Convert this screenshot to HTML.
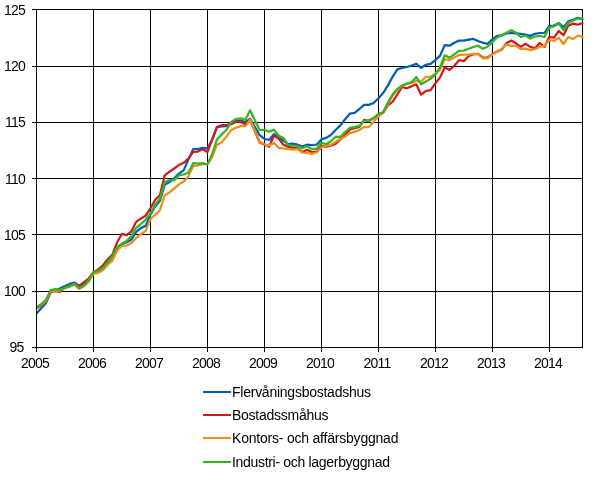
<!DOCTYPE html>
<html><head><meta charset="utf-8"><style>
html,body{margin:0;padding:0;background:#fff;}
svg{display:block;will-change:transform;}
text{font-family:"Liberation Sans",Arial,sans-serif;font-size:14px;fill:#000;}
.ax{letter-spacing:-0.75px;}
</style></head><body>
<svg width="607" height="478" viewBox="0 0 607 478">
<rect width="607" height="478" fill="#fff"/>
<g stroke="#000" stroke-width="1" shape-rendering="crispEdges">
<line x1="32" y1="9.5" x2="583" y2="9.5"/>
<line x1="32" y1="66.5" x2="583" y2="66.5"/>
<line x1="32" y1="122.5" x2="583" y2="122.5"/>
<line x1="32" y1="178.5" x2="583" y2="178.5"/>
<line x1="32" y1="234.5" x2="583" y2="234.5"/>
<line x1="32" y1="291.5" x2="583" y2="291.5"/>
<line x1="32" y1="347.5" x2="583" y2="347.5"/>
<line x1="36.5" y1="9" x2="36.5" y2="352"/>
<line x1="93.5" y1="9" x2="93.5" y2="352"/>
<line x1="150.5" y1="9" x2="150.5" y2="352"/>
<line x1="207.5" y1="9" x2="207.5" y2="352"/>
<line x1="264.5" y1="9" x2="264.5" y2="352"/>
<line x1="321.5" y1="9" x2="321.5" y2="352"/>
<line x1="378.5" y1="9" x2="378.5" y2="352"/>
<line x1="435.5" y1="9" x2="435.5" y2="352"/>
<line x1="492.5" y1="9" x2="492.5" y2="352"/>
<line x1="549.5" y1="9" x2="549.5" y2="352"/>
<line x1="582.5" y1="9" x2="582.5" y2="348"/>
</g>
<defs><clipPath id="pc"><rect x="37" y="0" width="570" height="478"/></clipPath></defs>
<g fill="none" stroke-width="2.25" stroke-linejoin="round" stroke-linecap="round" clip-path="url(#pc)">
<polyline points="36.50,313.40 41.25,308.20 46.00,303.00 50.74,291.70 55.49,290.20 60.24,288.20 64.99,286.10 69.73,283.90 74.48,282.60 79.23,285.70 83.98,283.40 88.73,279.20 93.47,272.30 98.22,271.50 102.97,269.40 107.72,262.60 112.47,256.50 117.21,247.70 121.96,244.30 126.71,242.20 131.46,239.50 136.20,232.00 140.95,227.90 145.70,225.90 150.45,214.50 155.20,206.50 159.94,200.80 164.69,184.80 169.44,182.00 174.19,178.30 178.93,173.60 183.68,170.40 188.43,159.40 193.18,149.10 197.93,149.10 202.67,147.80 207.42,148.70 212.17,139.60 216.92,127.10 221.67,126.40 226.41,126.10 231.16,123.40 235.91,120.50 240.66,120.50 245.40,122.00 250.15,119.00 254.90,127.10 259.65,135.20 264.40,138.80 269.14,140.00 273.89,134.20 278.64,136.80 283.39,140.50 288.13,144.20 292.88,143.60 297.63,144.70 302.38,146.30 307.13,144.70 311.87,145.00 316.62,144.70 321.37,139.40 326.12,137.90 330.87,135.00 335.61,130.00 340.36,125.40 345.11,119.30 349.86,113.70 354.60,112.80 359.35,109.00 364.10,104.90 368.85,104.90 373.60,103.00 378.34,98.50 383.09,93.10 387.84,85.60 392.59,76.80 397.33,69.30 402.08,67.90 406.83,67.00 411.58,65.60 416.33,63.80 421.07,67.90 425.82,64.80 430.57,63.80 435.32,60.10 440.07,55.60 444.81,45.10 449.56,45.70 454.31,42.70 459.06,40.60 463.80,40.60 468.55,39.70 473.30,38.90 478.05,41.10 482.80,42.70 487.54,43.80 492.29,39.40 497.04,35.90 501.79,35.40 506.53,33.30 511.28,32.80 516.03,33.30 520.78,33.80 525.53,34.70 530.27,35.90 535.02,33.80 539.77,33.00 544.52,32.80 549.27,26.00 554.01,25.60 558.76,23.10 563.51,27.10 568.26,21.40 573.00,19.70 577.75,17.90 582.50,19.30" stroke="#005fb4"/>
<polyline points="36.50,308.40 41.25,305.30 46.00,301.30 50.74,291.90 55.49,291.10 60.24,291.80 64.99,287.20 69.73,286.20 74.48,283.80 79.23,285.90 83.98,282.20 88.73,278.70 93.47,272.50 98.22,269.40 102.97,265.30 107.72,259.20 112.47,254.50 117.21,242.20 121.96,233.80 126.71,235.10 131.46,231.30 136.20,221.80 140.95,218.40 145.70,215.70 150.45,208.30 155.20,199.90 159.94,195.20 164.69,175.40 169.44,171.70 174.19,168.50 178.93,165.10 183.68,162.80 188.43,158.50 193.18,151.90 197.93,151.60 202.67,149.10 207.42,152.10 212.17,139.60 216.92,127.10 221.67,125.20 226.41,125.20 231.16,124.20 235.91,121.70 240.66,122.00 245.40,124.20 250.15,119.80 254.90,131.50 259.65,142.50 264.40,144.50 269.14,146.80 273.89,135.80 278.64,138.40 283.39,144.70 288.13,146.80 292.88,147.80 297.63,148.30 302.38,152.00 307.13,149.90 311.87,152.00 316.62,151.50 321.37,146.20 326.12,146.70 330.87,145.70 335.61,143.80 340.36,139.40 345.11,135.00 349.86,129.40 354.60,128.10 359.35,126.90 364.10,120.00 368.85,120.60 373.60,118.10 378.34,115.50 383.09,112.80 387.84,105.30 392.59,101.90 397.33,94.50 402.08,87.00 406.83,88.30 411.58,86.30 416.33,84.30 421.07,94.70 425.82,91.10 430.57,90.10 435.32,83.50 440.07,77.40 444.81,67.20 449.56,69.90 454.31,65.80 459.06,60.10 463.80,61.10 468.55,56.30 473.30,54.30 478.05,53.80 482.80,57.50 487.54,57.50 492.29,54.20 497.04,51.60 501.79,49.50 506.53,43.30 511.28,40.60 516.03,43.30 520.78,46.90 525.53,43.80 530.27,46.90 535.02,48.30 539.77,43.00 544.52,46.90 549.27,37.00 554.01,37.70 558.76,31.00 563.51,35.20 568.26,25.60 573.00,23.70 577.75,24.70 582.50,23.10" stroke="#d21919"/>
<polyline points="36.50,307.10 41.25,304.80 46.00,301.10 50.74,291.30 55.49,290.50 60.24,290.50 64.99,288.30 69.73,286.80 74.48,284.50 79.23,288.80 83.98,286.30 88.73,281.60 93.47,273.80 98.22,272.80 102.97,270.10 107.72,264.70 112.47,260.60 117.21,250.40 121.96,246.00 126.71,245.60 131.46,242.90 136.20,238.00 140.95,234.20 145.70,230.80 150.45,219.00 155.20,214.90 159.94,210.20 164.69,195.20 169.44,192.40 174.19,188.60 178.93,184.30 183.68,181.60 188.43,176.40 193.18,166.00 197.93,165.50 202.67,164.20 207.42,164.00 212.17,157.10 216.92,144.70 221.67,142.50 226.41,136.60 231.16,130.00 235.91,127.80 240.66,126.10 245.40,126.10 250.15,119.80 254.90,130.80 259.65,141.80 264.40,144.20 269.14,145.70 273.89,142.90 278.64,147.80 283.39,148.30 288.13,149.20 292.88,149.70 297.63,149.20 302.38,152.70 307.13,152.80 311.87,153.90 316.62,152.50 321.37,147.50 326.12,145.90 330.87,144.70 335.61,141.90 340.36,138.80 345.11,136.70 349.86,133.10 354.60,131.90 359.35,130.00 364.10,126.90 368.85,127.10 373.60,121.80 378.34,116.60 383.09,112.80 387.84,104.00 392.59,95.80 397.33,90.10 402.08,85.60 406.83,83.80 411.58,82.90 416.33,80.90 421.07,81.50 425.82,76.80 430.57,76.80 435.32,73.60 440.07,69.90 444.81,59.00 449.56,60.10 454.31,57.40 459.06,54.90 463.80,54.70 468.55,54.70 473.30,53.80 478.05,53.80 482.80,58.30 487.54,58.30 492.29,54.50 497.04,51.60 501.79,49.00 506.53,44.30 511.28,45.90 516.03,45.90 520.78,49.00 525.53,48.70 530.27,50.10 535.02,49.00 539.77,46.90 544.52,45.90 549.27,40.00 554.01,41.00 558.76,37.70 563.51,44.00 568.26,36.90 573.00,39.10 577.75,35.60 582.50,36.90" stroke="#eb911a"/>
<polyline points="36.50,307.20 41.25,304.10 46.00,299.90 50.74,290.00 55.49,289.20 60.24,289.80 64.99,287.90 69.73,286.00 74.48,283.90 79.23,288.40 83.98,285.60 88.73,280.40 93.47,272.50 98.22,270.80 102.97,268.00 107.72,262.00 112.47,255.80 117.21,247.00 121.96,243.60 126.71,240.90 131.46,236.10 136.20,227.90 140.95,223.80 145.70,219.80 150.45,213.50 155.20,204.60 159.94,198.90 164.69,182.00 169.44,180.10 174.19,180.10 178.93,175.40 183.68,174.50 188.43,172.60 193.18,163.20 197.93,163.60 202.67,163.20 207.42,164.60 212.17,154.20 216.92,139.60 221.67,134.40 226.41,130.00 231.16,122.00 235.91,119.00 240.66,118.30 245.40,119.80 250.15,110.30 254.90,120.50 259.65,130.00 264.40,129.80 269.14,131.60 273.89,129.70 278.64,135.80 283.39,137.90 288.13,145.20 292.88,145.70 297.63,146.00 302.38,148.10 307.13,146.30 311.87,148.90 316.62,148.90 321.37,142.70 326.12,144.20 330.87,141.30 335.61,136.70 340.36,136.90 345.11,131.90 349.86,127.90 354.60,127.10 359.35,125.90 364.10,120.60 368.85,121.20 373.60,118.10 378.34,113.80 383.09,112.20 387.84,102.60 392.59,94.50 397.33,89.00 402.08,85.60 406.83,83.60 411.58,82.20 416.33,77.00 421.07,84.30 425.82,81.50 430.57,78.80 435.32,74.70 440.07,67.20 444.81,55.20 449.56,57.70 454.31,54.30 459.06,50.90 463.80,50.60 468.55,48.80 473.30,47.00 478.05,45.70 482.80,48.80 487.54,46.80 492.29,42.20 497.04,37.50 501.79,35.40 506.53,32.80 511.28,30.20 516.03,32.80 520.78,37.00 525.53,35.70 530.27,38.50 535.02,36.50 539.77,35.90 544.52,37.00 549.27,27.60 554.01,26.40 558.76,23.50 563.51,30.20 568.26,22.90 573.00,20.50 577.75,18.70 582.50,18.20" stroke="#37b423"/>
</g>
<line x1="36.5" y1="9" x2="36.5" y2="352" stroke="#000" stroke-width="1" shape-rendering="crispEdges"/>
<g>
<text x="25" y="15" text-anchor="end" class="ax">125</text>
<text x="25" y="71" text-anchor="end" class="ax">120</text>
<text x="25" y="127" text-anchor="end" class="ax">115</text>
<text x="25" y="184" text-anchor="end" class="ax">110</text>
<text x="25" y="240" text-anchor="end" class="ax">105</text>
<text x="25" y="296" text-anchor="end" class="ax">100</text>
<text x="23.5" y="352" text-anchor="end" class="ax">95</text>
<text x="35" y="367.5" text-anchor="middle" class="ax">2005</text>
<text x="92" y="367.5" text-anchor="middle" class="ax">2006</text>
<text x="149" y="367.5" text-anchor="middle" class="ax">2007</text>
<text x="206" y="367.5" text-anchor="middle" class="ax">2008</text>
<text x="263" y="367.5" text-anchor="middle" class="ax">2009</text>
<text x="320" y="367.5" text-anchor="middle" class="ax">2010</text>
<text x="377" y="367.5" text-anchor="middle" class="ax">2011</text>
<text x="434" y="367.5" text-anchor="middle" class="ax">2012</text>
<text x="491" y="367.5" text-anchor="middle" class="ax">2013</text>
<text x="548" y="367.5" text-anchor="middle" class="ax">2014</text>
<rect x="203" y="391" width="28" height="2" fill="#005fb4"/><text x="232" y="397" textLength="139" lengthAdjust="spacing">Flervåningsbostadshus</text>
<rect x="203" y="414" width="28" height="2" fill="#d21919"/><text x="232" y="420" textLength="96.5" lengthAdjust="spacing">Bostadssmåhus</text>
<rect x="203" y="437" width="28" height="2" fill="#eb911a"/><text x="232" y="443" textLength="166.5" lengthAdjust="spacing">Kontors- och affärsbyggnad</text>
<rect x="203" y="461" width="28" height="2" fill="#37b423"/><text x="232" y="467" textLength="158" lengthAdjust="spacing">Industri- och lagerbyggnad</text>
</g>
</svg>
</body></html>
